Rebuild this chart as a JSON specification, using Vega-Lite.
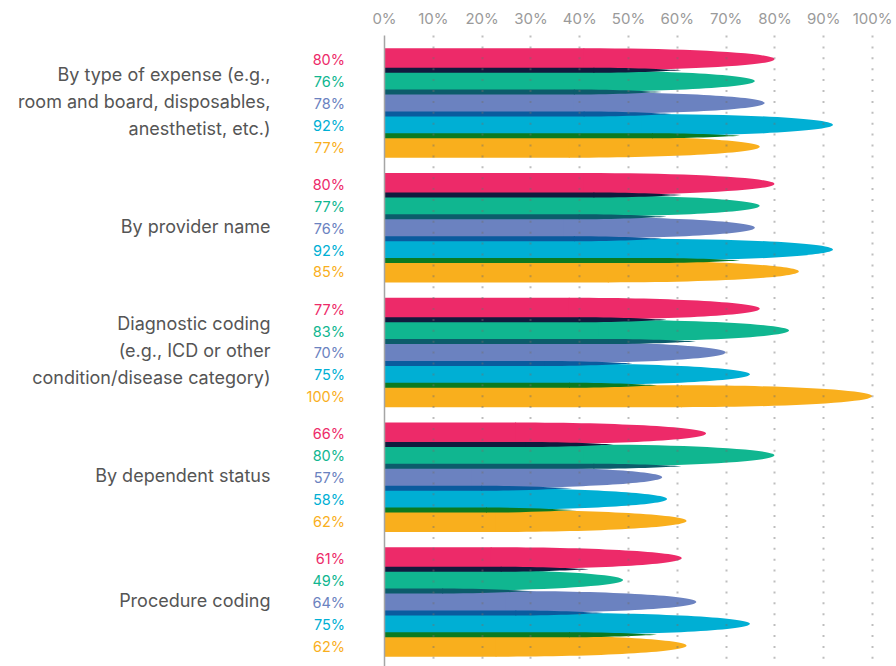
{
  "$schema": "https://vega.github.io/schema/vega-lite/v6.json",
  "width": 488,
  "height": 631,
  "autosize": {"type": "none"},
  "padding": {"left": 384, "top": 35, "right": 24, "bottom": 0},
  "background": "white",
  "config": {"view": {"stroke": null}, "font": "Inter"},
  "data": {
    "values": [
      {"group": "By type of expense (e.g.,\nroom and board, disposables,\nanesthetist, etc.)", "series": "S1", "value": 80},
      {"group": "By type of expense (e.g.,\nroom and board, disposables,\nanesthetist, etc.)", "series": "S2", "value": 76},
      {"group": "By type of expense (e.g.,\nroom and board, disposables,\nanesthetist, etc.)", "series": "S3", "value": 78},
      {"group": "By type of expense (e.g.,\nroom and board, disposables,\nanesthetist, etc.)", "series": "S4", "value": 92},
      {"group": "By type of expense (e.g.,\nroom and board, disposables,\nanesthetist, etc.)", "series": "S5", "value": 77},
      {"group": "By provider name", "series": "S1", "value": 80},
      {"group": "By provider name", "series": "S2", "value": 77},
      {"group": "By provider name", "series": "S3", "value": 76},
      {"group": "By provider name", "series": "S4", "value": 92},
      {"group": "By provider name", "series": "S5", "value": 85},
      {"group": "Diagnostic coding\n(e.g., ICD or other\ncondition/disease category)", "series": "S1", "value": 77},
      {"group": "Diagnostic coding\n(e.g., ICD or other\ncondition/disease category)", "series": "S2", "value": 83},
      {"group": "Diagnostic coding\n(e.g., ICD or other\ncondition/disease category)", "series": "S3", "value": 70},
      {"group": "Diagnostic coding\n(e.g., ICD or other\ncondition/disease category)", "series": "S4", "value": 75},
      {"group": "Diagnostic coding\n(e.g., ICD or other\ncondition/disease category)", "series": "S5", "value": 100},
      {"group": "By dependent status", "series": "S1", "value": 66},
      {"group": "By dependent status", "series": "S2", "value": 80},
      {"group": "By dependent status", "series": "S3", "value": 57},
      {"group": "By dependent status", "series": "S4", "value": 58},
      {"group": "By dependent status", "series": "S5", "value": 62},
      {"group": "Procedure coding", "series": "S1", "value": 61},
      {"group": "Procedure coding", "series": "S2", "value": 49},
      {"group": "Procedure coding", "series": "S3", "value": 64},
      {"group": "Procedure coding", "series": "S4", "value": 75},
      {"group": "Procedure coding", "series": "S5", "value": 62}
    ]
  },
  "resolve": {"scale": {"yOffset": "independent"}},
  "encoding": {
    "y": {
      "field": "group",
      "type": "nominal",
      "sort": null,
      "scale": {"paddingInner": 0.123, "paddingOuter": 0.0906, "align": 0.588},
      "axis": {
        "title": null,
        "domain": true,
        "domainColor": "#a5a5a5",
        "domainWidth": 1.5,
        "ticks": false,
        "labelPadding": 114,
        "labelFontSize": 18,
        "labelColor": "#555555",
        "labelLineHeight": 27,
        "labelExpr": "split(datum.value, '\\n')",
        "labelOffset": {"condition": {"test": "indexof(datum.value, '\\n') >= 0", "value": -27}, "value": 0},
        "labelLimit": 0,
        "labelFont": "Inter",
        "zindex": 2
      }
    }
  },
  "layer": [
    {
      "mark": {"type": "rule", "strokeWidth": 21.9, "xOffset": -190},
      "encoding": {
        "x": {
          "field": "value",
          "type": "quantitative",
          "scale": {"domain": [0, 100], "nice": false},
          "axis": {
            "orient": "top",
            "title": null,
            "values": [0, 10, 20, 30, 40, 50, 60, 70, 80, 90, 100],
            "labelExpr": "datum.value + '%'",
            "labelFlush": false,
            "domain": false,
            "ticks": false,
            "grid": true,
            "gridDash": [2, 8.9],
            "gridColor": "#6e6e6e",
            "gridOpacity": {"condition": {"test": "datum.value === 0", "value": 0}, "value": 0.45},
            "gridWidth": 2,
            "labelColor": "#9a9a9a",
            "labelFontSize": 15,
            "labelFont": "Inter",
            "labelPadding": 9,
            "zindex": 1
          }
        },
        "x2": {"datum": 0},
        "yOffset": {"field": "series", "type": "nominal", "scale": {"type": "band", "domain": ["S1", "S2", "S3", "S4", "S5"], "range": [0, 109.4], "paddingInner": 0, "paddingOuter": 0}},
        "color": {
          "field": "series",
          "type": "nominal",
          "legend": null,
          "scale": {"domain": ["S1", "S2", "S3", "S4", "S5"], "range": ["#ED2A69", "#10B690", "#6B82C0", "#00AFD4", "#F9AF1D"]}
        }
      }
    },
    {
      "mark": {
        "type": "point",
        "filled": true,
        "opacity": 1,
        "strokeWidth": 0,
        "size": 400,
        "shape": "M-19.1,-1.094L-19,-1.094C-8.5,-1.094 0,-0.6 0,0C0,0.6 -8.5,1.094 -19,1.094L-19.1,1.094Z"
      },
      "encoding": {
        "x": {"field": "value", "type": "quantitative"},
        "yOffset": {"field": "series", "type": "nominal", "scale": {"type": "band", "domain": ["S1", "S2", "S3", "S4", "S5"], "range": [0, 109.4], "paddingInner": 0, "paddingOuter": 0}},
        "color": {"field": "series", "type": "nominal", "legend": null}
      }
    },
    {
      "transform": [{"filter": "datum.series !== 'S5'"}],
      "mark": {"type": "rule", "strokeWidth": 5, "xOffset": -180},
      "encoding": {
        "x": {"field": "value", "type": "quantitative"},
        "x2": {"datum": 0},
        "yOffset": {"field": "series", "type": "nominal", "scale": {"type": "band", "domain": ["S1", "S2", "S3", "S4"], "range": [0, 109.4], "paddingInner": 0, "paddingOuter": 0.5, "align": 0.5}},
        "stroke": {
          "field": "series",
          "type": "nominal",
          "legend": null,
          "scale": {"domain": ["S1", "S2", "S3", "S4"], "range": ["#111B3E", "#0C5C6B", "#0A5B9E", "#0C7A21"]}
        }
      }
    },
    {
      "transform": [{"filter": "datum.series !== 'S5'"}],
      "mark": {
        "type": "point",
        "filled": true,
        "opacity": 1,
        "strokeWidth": 0,
        "size": 400,
        "shape": "M-18.1,-0.25L-18,-0.25C-13.5,-0.25 -10.5,-0.05 -9,0C-10.5,0.05 -13.5,0.25 -18,0.25L-18.1,0.25Z"
      },
      "encoding": {
        "x": {"field": "value", "type": "quantitative"},
        "yOffset": {"field": "series", "type": "nominal", "scale": {"type": "band", "domain": ["S1", "S2", "S3", "S4"], "range": [0, 109.4], "paddingInner": 0, "paddingOuter": 0.5, "align": 0.5}},
        "fill": {
          "field": "series",
          "type": "nominal",
          "legend": null,
          "scale": {"domain": ["S1", "S2", "S3", "S4"], "range": ["#111B3E", "#0C5C6B", "#0A5B9E", "#0C7A21"]}
        }
      }
    },
    {
      "transform": [{"calculate": "datum.value + '%'", "as": "label"}],
      "mark": {"type": "text", "align": "right", "baseline": "middle", "dx": -39, "dy": 2, "fontSize": 14.5, "font": "Inter"},
      "encoding": {
        "x": {"datum": 0},
        "yOffset": {"field": "series", "type": "nominal", "scale": {"type": "band", "domain": ["S1", "S2", "S3", "S4", "S5"], "range": [0, 109.4], "paddingInner": 0, "paddingOuter": 0}},
        "text": {"field": "label", "type": "nominal"},
        "color": {"field": "series", "type": "nominal", "legend": null}
      }
    }
  ]
}
